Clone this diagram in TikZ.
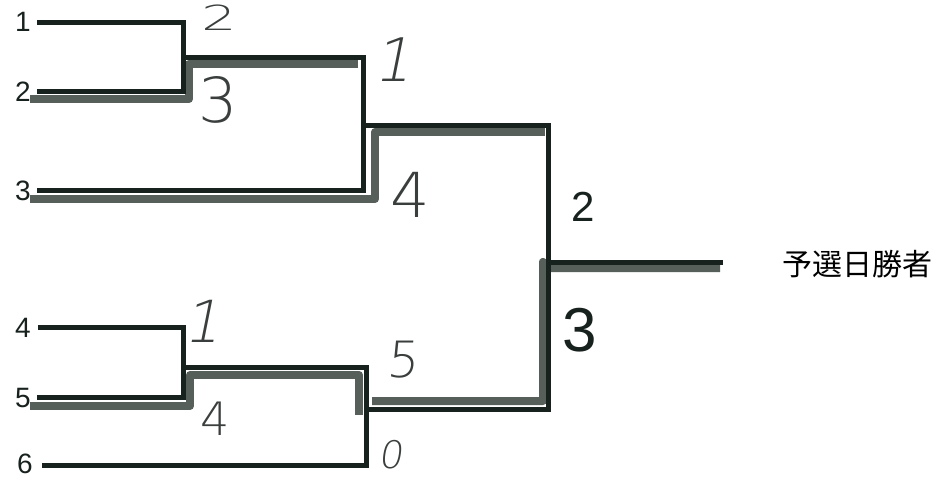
\documentclass[tikz,border=0pt]{standalone}
\usepackage{fontspec}
\setsansfont{Liberation Sans}
\newfontfamily\cjk{Noto Sans CJK JP}
\newfontfamily\hand{DejaVu Sans}[UprightFont={* ExtraLight}]
\definecolor{ink}{HTML}{17211D}
\definecolor{marker}{HTML}{444E47}
\definecolor{pen}{HTML}{3A3F3D}
\tikzset{
  seed/.style={font=\sffamily\fontsize{28}{28}\selectfont, anchor=east, inner sep=0pt, text=ink},
  bline/.style={draw=ink, line width=5pt, line join=miter},
  hilite/.style={draw=marker, line width=8pt, line join=round, opacity=0.9},
  score/.style={font=\hand\fontsize{#1}{#1}\selectfont, text=pen, inner sep=0pt},
  boldscore/.style={font=\sffamily\fontsize{#1}{#1}\selectfont, text=ink, inner sep=0pt},
}
\begin{document}
\begin{tikzpicture}[x=1pt,y=-1pt]
\useasboundingbox (0,0) rectangle (952,480);
\fill[white] (0,0) rectangle (952,480);

% seed labels
\node[seed] (n1) at (31,22) {1};
\node[seed] (n2) at (31,92) {2};
\node[seed] (n3) at (31,191) {3};
\node[seed] (n4) at (31,328) {4};
\node[seed] (n5) at (31,398) {5};
\node[seed] (n6) at (33,464) {6};

% line starts
\coordinate (s1) at (37,22);
\coordinate (s2) at (37,91);
\coordinate (s3) at (37,190);
\coordinate (s4) at (38,327);
\coordinate (s5) at (37,397);
\coordinate (s6) at (42,465);

% bracket points
\coordinate (m1b) at (183,91);
\coordinate (m1o) at (183,57);
\coordinate (r1b) at (363,190);
\coordinate (r1o) at (363,125);
\coordinate (m2b) at (183,397);
\coordinate (m2o) at (183,367);
\coordinate (r2b) at (366,465);
\coordinate (r2o) at (366,409);
\coordinate (fb) at (548,409);
\coordinate (fo) at (548,262);
\coordinate (win) at (723,262);

% marker highlights (winners)
\draw[hilite] (30,99) -- (189,99) -- (189,64) -- (358,64);
\draw[hilite] (30,199) -- (375,199) -- (375,132) -- (545,132);
\draw[hilite] (30,406) -- (190,406) -- (190,375) -- (359,375) -- (359,415);
\draw[hilite] (372,401) -- (543,401) -- (543,262) -- (548,268) -- (720,268);

% black bracket lines
\draw[bline] (s1) -| (m1b) -- (s2);
\draw[bline] (m1o) -| (r1b) -- (s3);
\draw[bline] (s4) -| (m2b) -- (s5);
\draw[bline] (m2o) -| (r2b) -- (s6);
\draw[bline] (r1o) -| (fb) -- (r2o);
\draw[bline] (fo) -- (win);

% handwritten scores
\node[score=46, yscale=0.75, xscale=1.2] (a1) at (219,18) {2};
\node[score=62] (a2) at (218,100) {3};
\node[score=60, xslant=0.2] (b1) at (397,60) {1};
\node[score=62] (b2) at (410,195) {4};
\node[score=58, xslant=0.2] (c1) at (206,321) {1};
\node[score=46] (c2) at (215,419) {4};
\node[score=50, xslant=0.1] (d1) at (404,360) {5};
\node[score=38, xslant=0.15] (d2) at (393,455) {0};
\node[boldscore=42] (e1) at (583,207) {2};
\node[boldscore=62] (e2) at (580,330) {3};

% winner label
\node[font=\cjk\fontsize{30}{30}\selectfont, text=black, anchor=west, inner sep=0pt] (w) at (782,264) {予選日勝者};
\end{tikzpicture}
\end{document}
